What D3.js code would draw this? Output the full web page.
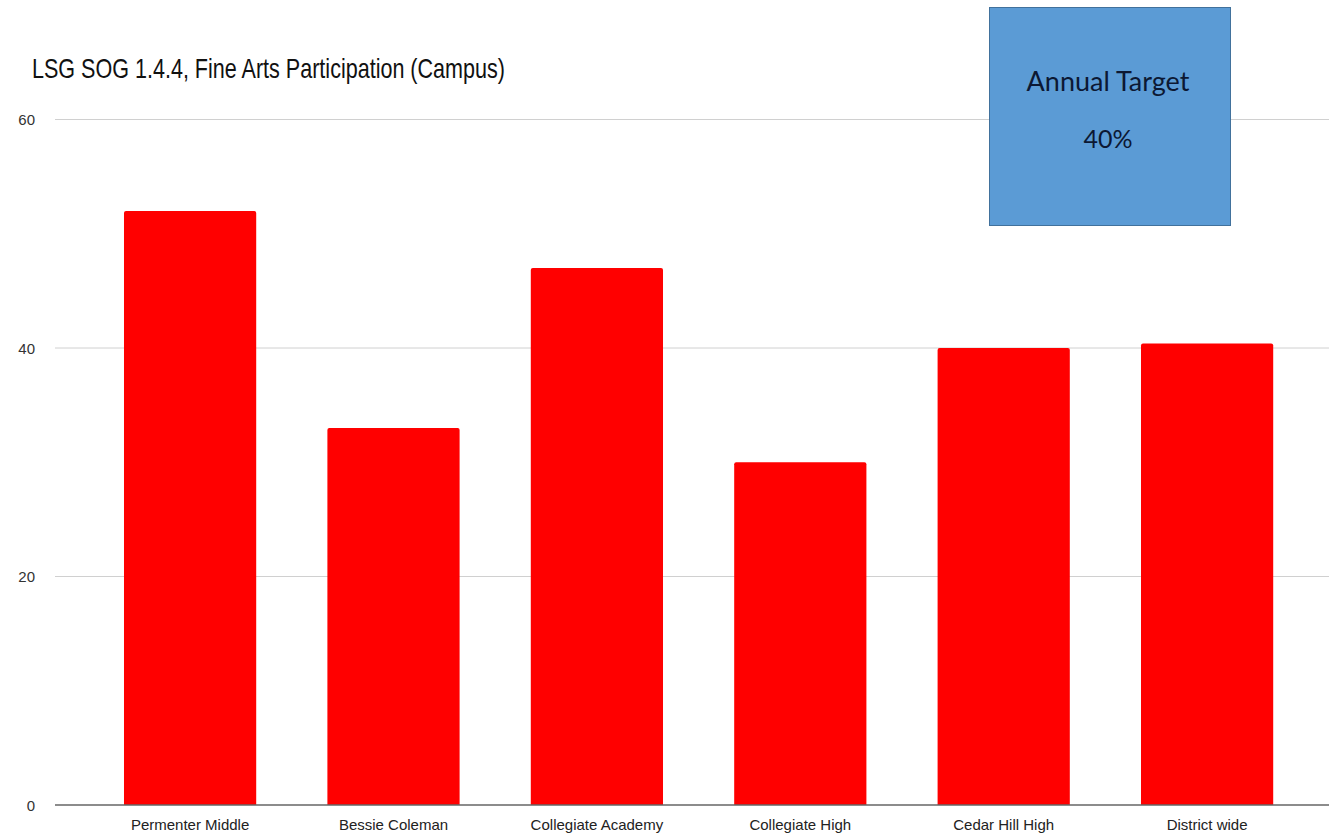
<!DOCTYPE html>
<html>
<head>
<meta charset="utf-8">
<script src="https://cdn.jsdelivr.net/npm/d3@7"></script>
<style>
  html, body { margin: 0; padding: 0; background: #fff; }
  svg { display: block; }
</style>
</head>
<body>
<svg id="chart" width="1329" height="836"></svg>
<script>
const title = "LSG SOG 1.4.4, Fine Arts Participation (Campus)";
const categories = ["Permenter Middle", "Bessie Coleman", "Collegiate Academy", "Collegiate High", "Cedar Hill High", "District wide"];
const values = [52, 33, 47, 30, 40, 40.4];
const yTicks = [0, 20, 40, 60];
const targetLabel = "Annual Target";
const targetValue = "40%";

const svg = d3.select("#chart");
const W = 1329, H = 836;

const y = d3.scaleLinear().domain([0, 60]).range([805, 119.5]);
const x = d3.scaleBand().domain(categories).range([88.4, 1308.8]).paddingInner(0.35).paddingOuter(0.175);

// gridlines
const grid = svg.append("g");
grid.selectAll("line").data(yTicks.filter(d => d !== 0)).enter().append("line")
  .attr("x1", 55).attr("x2", W)
  .attr("y1", d => y(d)).attr("y2", d => y(d))
  .attr("stroke", "#d0d0d0").attr("stroke-width", 1);

// y tick labels
svg.append("g").selectAll("text").data(yTicks).enter().append("text")
  .attr("x", 35).attr("y", d => y(d) + 5.5)
  .attr("text-anchor", "end")
  .attr("font-family", "Liberation Sans, Arial, sans-serif")
  .attr("font-size", 15).attr("fill", "#333")
  .text(d => d);

// bars
svg.append("g").selectAll("path").data(categories).enter().append("path")
  .attr("d", (c, i) => {
    const x0 = x(c), w = x.bandwidth(), yt = y(values[i]), yb = y(0), r = 2;
    return `M${x0},${yb} L${x0},${yt + r} Q${x0},${yt} ${x0 + r},${yt} L${x0 + w - r},${yt} Q${x0 + w},${yt} ${x0 + w},${yt + r} L${x0 + w},${yb} Z`;
  })
  .attr("fill", "#ff0000");

// baseline axis
svg.append("line").attr("x1", 55).attr("x2", W).attr("y1", y(0)).attr("y2", y(0))
  .attr("stroke", "#666").attr("stroke-width", 1.5);

// x labels
const xAxis = d3.axisBottom(x).tickSize(0).tickPadding(0);
const gx = svg.append("g").attr("transform", `translate(0,${y(0)})`).call(xAxis);
gx.select(".domain").remove();
gx.selectAll("text")
  .attr("y", 14).attr("dy", "0.71em")
  .attr("font-family", "Liberation Sans, Arial, sans-serif")
  .attr("font-size", 15).attr("fill", "#222");

// title (slightly condensed like the reference)
svg.append("text")
  .attr("transform", "translate(32,78) scale(0.77,1)")
  .attr("font-family", "Liberation Sans, Arial, sans-serif")
  .attr("font-size", 28).attr("fill", "#111")
  .text(title);

// target box
const box = svg.append("g");
box.append("rect").attr("x", 989.5).attr("y", 7.5).attr("width", 241).attr("height", 218)
  .attr("fill", "#5b9bd5").attr("stroke", "#41719c").attr("stroke-width", 1);
box.append("text").attr("x", 1108).attr("y", 91).attr("text-anchor", "middle")
  .attr("font-family", "Lato, 'Open Sans', sans-serif").attr("font-size", 27).attr("fill", "#0c1833")
  .text(targetLabel);
box.append("text").attr("x", 1108).attr("y", 148).attr("text-anchor", "middle")
  .attr("font-family", "Lato, 'Open Sans', sans-serif").attr("font-size", 25).attr("fill", "#0c1833")
  .text(targetValue);
</script>
</body>
</html>
